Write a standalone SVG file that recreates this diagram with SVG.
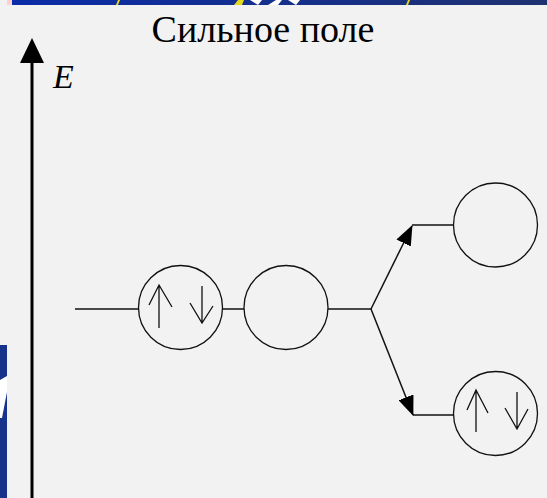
<svg xmlns="http://www.w3.org/2000/svg" width="547" height="498" viewBox="0 0 547 498">
  <defs>
    <linearGradient id="band" x1="0" y1="0" x2="1" y2="0">
      <stop offset="0" stop-color="#0b2ca8"/>
      <stop offset="1" stop-color="#1f3270"/>
    </linearGradient>
    <marker id="tri" viewBox="0 0 20 16" refX="19" refY="8" markerWidth="20" markerHeight="16" markerUnits="userSpaceOnUse" orient="auto">
      <path d="M0,0 L20,8 L0,16 Z" fill="#000"/>
    </marker>
  </defs>
  <style>
    .ln { stroke: #111; stroke-width: 1.5; fill: none; }
    .orb { stroke: #111; stroke-width: 1.3; fill: none; }
    .spin { stroke: #111; stroke-width: 1.3; fill: none; }
    .title { font-family: "Liberation Serif", "Times New Roman", serif; font-size: 38px; fill: #000; }
    .lbl { font-family: "Liberation Serif", "Times New Roman", serif; font-style: italic; font-size: 34px; fill: #000; }
  </style>

  <!-- page background -->
  <rect width="547" height="498" fill="#f2f2f2"/>

  <!-- slide decoration strips at the edges -->
  <rect x="7" y="0" width="5" height="5" fill="#ffd0d0"/>
  <rect x="12" y="0" width="535" height="5" fill="url(#band)"/>
  <path d="M116,5 L118,0 L120,0 L118,5 Z" fill="#e6d81a"/>
  <path d="M234,5 L238,0 L244,0 L242,5 Z" fill="#e6d81a"/>
  <path d="M250,0 L262,0 L258,5 Z M268,5 L276,0 L282,0 L278,5 Z M288,0 L300,0 L296,5 Z" fill="#ffffff"/>
  <path d="M406,5 L408,0 L410,0 L408,5 Z" fill="#e6d81a"/>
  <rect x="0" y="345" width="7" height="153" fill="#17328a"/>
  <path d="M0,380 L7,376 L7,392 L2,418 L0,418 Z" fill="#ffffff"/>

  <!-- title -->
  <text class="title" x="263" y="42" text-anchor="middle">Сильное поле</text>

  <!-- energy axis -->
  <g id="axis">
    <line x1="32" y1="498" x2="32" y2="60" stroke="#000" stroke-width="3"/>
    <path d="M32,38 L20,63 L44,63 Z" fill="#000"/>
    <text class="lbl" x="53" y="88">E</text>
  </g>

  <!-- connectors -->
  <g id="connectors">
    <line class="ln" x1="75" y1="309" x2="138" y2="309"/>
    <line class="ln" x1="223" y1="309" x2="244" y2="309"/>
    <line class="ln" x1="328" y1="309" x2="371" y2="309"/>
    <line class="ln" x1="371" y1="309" x2="412" y2="226" marker-end="url(#tri)"/>
    <line class="ln" x1="371" y1="309" x2="413" y2="415" marker-end="url(#tri)"/>
    <line class="ln" x1="412" y1="225" x2="454" y2="225"/>
    <line class="ln" x1="413" y1="415" x2="454" y2="415"/>
  </g>

  <!-- orbital with electron pair -->
  <g id="orbital-1">
    <circle class="orb" cx="180.5" cy="307.5" r="42"/>
    <path class="spin" d="M159,328 L159,285 M149,305 L159,285 L172,307"/>
    <path class="spin" d="M202,286 L202,323 M190,303 L202,323 L213,306"/>
  </g>

  <!-- empty orbital -->
  <g id="orbital-2">
    <circle class="orb" cx="286" cy="307.5" r="42"/>
  </g>

  <!-- upper split level -->
  <g id="orbital-3">
    <circle class="orb" cx="495.5" cy="225" r="42"/>
  </g>

  <!-- lower split level with electron pair -->
  <g id="orbital-4">
    <circle class="orb" cx="495.5" cy="413.5" r="42"/>
    <path class="spin" d="M476,432 L476,390 M467,410 L476,390 L488,413"/>
    <path class="spin" d="M517,392 L517,429 M505,408 L517,429 L528,409"/>
  </g>
</svg>
